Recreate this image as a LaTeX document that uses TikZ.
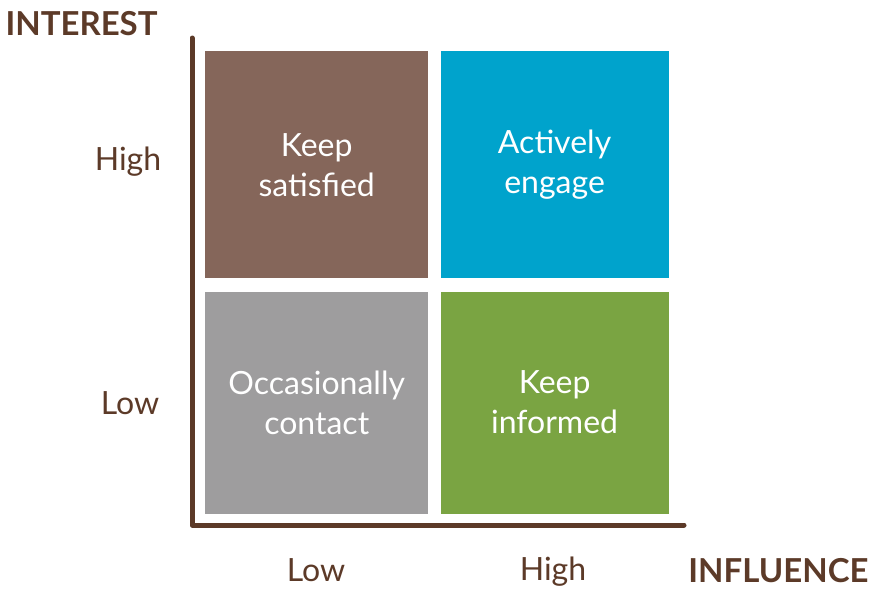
\documentclass[tikz,border=0pt]{standalone}
\usepackage{fontspec}
\setmainfont{Lato}
\usetikzlibrary{positioning}

\definecolor{axisbrown}{HTML}{5C3A28}
\definecolor{boxbrown}{HTML}{85665A}
\definecolor{boxblue}{HTML}{00A3CC}
\definecolor{boxgray}{HTML}{9E9D9E}
\definecolor{boxgreen}{HTML}{7AA442}

\begin{document}
\begin{tikzpicture}
   [
      x=1pt, y=-1pt,
      quadrant/.style={rectangle, inner sep=0pt, minimum width=223pt, minimum height=227pt,
                       align=center, text=white, font=\fontsize{32}{40}\selectfont},
      axis line/.style={line width=5pt, axisbrown, line cap=round, line join=round},
      level label/.style={text=axisbrown, font=\fontsize{32}{36}\selectfont},
      axis title/.style={text=axisbrown, font=\fontsize{33}{36}\selectfont\bfseries}
   ]

   \useasboundingbox (0,0) rectangle (872,590);

   % =======================================================
   % Quadrants
   % =======================================================

   \node[quadrant, fill=boxbrown, anchor=north west] (satisfied) at (205,51) {Keep\\satisfied};
   \node[quadrant, fill=boxblue, right=12pt of satisfied, minimum width=228pt] (engage) {Actively\\engage};
   \node[quadrant, fill=boxgray, below=13pt of satisfied, minimum height=222pt] (contact) {Occasionally\\contact};
   \node[quadrant, fill=boxgreen, below=13pt of engage, minimum width=228pt, minimum height=222pt] (informed) {Keep\\informed};

   % =======================================================
   % Axes
   % =======================================================

   \coordinate (top) at (192,38);
   \coordinate (origin) at (192,525);
   \coordinate (right end) at (684,525);
   \draw[axis line] (top) -- (origin) -- (right end);

   % Axis titles
   \node[axis title, anchor=west] (interest) at (2,24) {INTEREST};
   \node[axis title, anchor=east] (influence) at (872,571) {INFLUENCE};

   % Level labels
   \node[level label] (int high) at (128,162) {High};
   \node[level label] (int low) at (130,403) {Low};
   \node[level label] (inf low) at (316,570) {Low};
   \node[level label] (inf high) at (553,572) {High};

\end{tikzpicture}
\end{document}
